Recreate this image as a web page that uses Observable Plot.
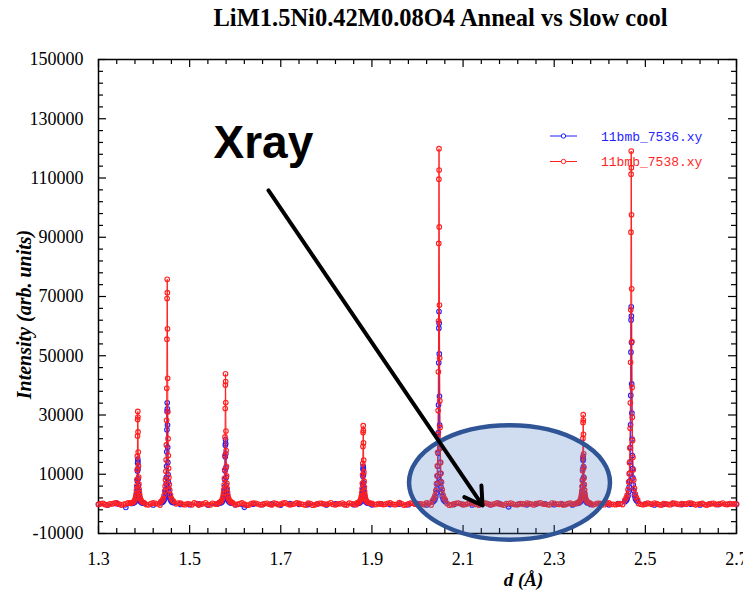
<!DOCTYPE html>
<html>
<head>
<meta charset="utf-8">
<script src="https://cdn.jsdelivr.net/npm/d3@7"></script>
<script src="https://cdn.jsdelivr.net/npm/@observablehq/plot@0.6"></script>
<style>
  html, body { margin: 0; padding: 0; background: #fff; }
</style>
</head>
<body>
<div id="chart"></div>
<script>
// ---- Diffraction data (d in Å, intensity in arb. units) ----
const dStart = 1.30;
const redStep = 0.005;  // background sampling of 11bmb_7538
const blueStep = 0.02;  // background sampling of 11bmb_7536

// background intensities, 1.30 → 2.70
const redBase = [
  -200, 80, 150, -260, -380, 10, -30, 220, 370, -90,
  -420, -150, 30, 310, 250, -60, -300, -350, -100, 120,
  100, -240, -330, 60, 380, 190, -50, -410, -450, -120,
  150, 330, -170, -20, 30, 270, 250, -160, -280, 40,
  -80, -310, 330, 120, -400, -90, 50, 360, -230, -370,
  200, 20, -130, -250, -350, 140, 350, -60, 0, 290,
  -280, -190, 130, 310, -100, -440, -420, 60, 280, 170,
  -50, -330, -200, 90, 180, -120, -380, 250, 80, -270,
  -100, 230, 350, -40, -330, -150, 30, 320, 150, -90,
  -250, -400, 230, 110, -450, -310, -30, 180, 150, -60,
  -180, 40, 350, -200, -330, 10, 30, 260, -250, -410,
  230, 90, -130, -300, 270, 60, -450, -180, -30, 340,
  150, -220, -180, 130, 0, -250, -100, 210, 380, -60,
  -280, -150, 400, 100, -400, -330, 0, 230, 200, -100,
  -230, 50, -80, -260, 330, 190, -350, -120, 50, 260,
  180, -110, -150, 90, -430, -280, -30, 150, 250, 20,
  -300, -210, 30, 300, 350, -90, -200, -400, 0, 170,
  250, -20, -300, -150, 50, 330, -50, -230, -400, 120,
  130, 260, -100, -300, -250, 60, 0, -180, 280, 80,
  -50, -350, 100, 190, 350, -40, -130, -220, -330, 270,
  200, -80, -150, 60, -380, -250, 80, 230, -130, -20,
  -300, 150, 300, -100, -200, 10, 90, -330, -60, 210,
  150, -50, -300, 240, 330, -170, -130, -280, -100, 70,
  -250, 10, 330, 120, -400, -250, 380, 120, -130, -300,
  -100, 230, 50, -200, 300, 70, -230, -400, 130, 50,
  -180, -300, 250, 160, -80, -210, 100, -20, -130, 220,
  280, 0, -330, -150, 30, 150, -250, -410, -100, 60,
  180, -220, -60, 30, 300, -150, -250, 80, -50, -30,
  -50
];
const blueBase = [
  -150, -400, 80, -1200, -250, -30, -350, 130, -1050, -180,
  -280, 0, -380, -100, 150, -320, -1150, -130, -230, -20,
  -400, 100, -150, -250, -50, -350, 50, -180, -280, -100,
  -330, 30, -230, -80, -300, 120, -380, -130, 0, -250,
  -180, -350, -40, -260, 60, -1000, -150, -320, -80, 20,
  -280, -130, -370, 0, -200, -100, -330, 100, -250, -150,
  -30, -350, -150, 60, -250, -120, -370, -60, -230, -130,
  -150
];

// Bragg reflections (spinel 531, 440, 511, 331, 400, 222, 311)
const peakCenters = [1.3862, 1.4508, 1.5787, 1.8809, 2.0472, 2.3636, 2.4690];
// sampling offsets across each reflection
const peakOffsets = [
  -0.014, -0.011, -0.009, -0.007, -0.0055, -0.0045, -0.0037, -0.003, -0.0024, -0.0019, -0.0014, -0.001, -0.0006, -0.0003,
  0,
  0.0003, 0.0006, 0.001, 0.0014, 0.0019, 0.0024, 0.003, 0.0037, 0.0045, 0.0055, 0.007, 0.009, 0.011, 0.014
];

const redPeaks = [
  [310, 500, 720, 1150, 1780, 2460, 3340, 4520, 6120, 8210, 11600, 16100, 22900, 28500, 31200,
   29300, 24300, 17500, 12800, 9050, 6710, 4930, 3650, 2680, 1900, 1250, 780, 530, 340],
  [760, 1210, 1740, 2800, 4320, 5990, 8110, 11000, 14900, 19900, 28200, 39000, 55600, 69300, 75800,
   71300, 59100, 42400, 31100, 22000, 16300, 12000, 8870, 6520, 4620, 3030, 1900, 1290, 830],
  [440, 700, 1010, 1620, 2500, 3470, 4700, 6370, 8600, 11500, 16300, 22600, 32200, 40100, 43900,
   41300, 34200, 24600, 18000, 12700, 9440, 6940, 5140, 3780, 2680, 1760, 1100, 750, 480],
  [260, 420, 610, 980, 1500, 2090, 2820, 3830, 5170, 6940, 9820, 13600, 19400, 24100, 26400,
   24800, 20600, 14800, 10800, 7660, 5680, 4170, 3090, 2270, 1610, 1060, 660, 450, 290],
  [1200, 1920, 2760, 4440, 6830, 9470, 12800, 17400, 23500, 31500, 44600, 61700, 87900, 109600, 119900,
   112700, 93500, 67100, 49200, 34800, 25800, 18900, 14000, 10300, 7310, 4800, 3000, 2040, 1320],
  [300, 480, 690, 1110, 1720, 2380, 3220, 4360, 5900, 7920, 11200, 15500, 22100, 27500, 30100,
   28300, 23500, 16900, 12300, 8730, 6470, 4760, 3520, 2590, 1840, 1200, 750, 510, 330],
  [1300, 2100, 3000, 4800, 7400, 10200, 13900, 18900, 25500, 34100, 47800, 65500, 91700, 111300, 119100,
   113500, 97600, 72600, 54800, 39300, 29200, 21400, 15700, 11500, 8100, 5200, 3300, 2200, 1400]
];
const bluePeaks = [
  [150, 240, 350, 560, 860, 1190, 1620, 2190, 2960, 3970, 5620, 7780, 11100, 13800, 15100,
   14200, 11800, 8460, 6190, 4380, 3250, 2390, 1770, 1300, 920, 600, 380, 260, 170],
  [340, 550, 780, 1260, 1940, 2690, 3650, 4940, 6680, 8970, 12700, 17600, 25000, 31200, 34100,
   32100, 26600, 19100, 14000, 9890, 7330, 5390, 3990, 2930, 2080, 1360, 850, 580, 380],
  [220, 350, 500, 800, 1240, 1710, 2320, 3150, 4250, 5710, 8070, 11200, 15900, 19800, 21700,
   20400, 16900, 12200, 8900, 6290, 4670, 3430, 2540, 1870, 1320, 870, 540, 370, 240],
  [130, 200, 290, 470, 720, 1000, 1360, 1840, 2490, 3340, 4720, 6540, 9310, 11600, 12700,
   11900, 9910, 7110, 5210, 3680, 2730, 2010, 1490, 1090, 770, 510, 320, 220, 140],
  [650, 1040, 1490, 2400, 3700, 5130, 6940, 9410, 12700, 17100, 24100, 33400, 47600, 59300, 64900,
   61000, 50600, 36300, 26600, 18800, 14000, 10300, 7590, 5580, 3960, 2600, 1620, 1100, 710],
  [160, 260, 370, 600, 920, 1270, 1720, 2330, 3160, 4230, 5990, 8290, 11800, 14700, 16100,
   15100, 12600, 9020, 6600, 4670, 3460, 2540, 1880, 1380, 980, 640, 400, 270, 180],
  [720, 1150, 1650, 2660, 4100, 5700, 7700, 10400, 14200, 19000, 26700, 36600, 51200, 62100, 66500,
   63400, 54500, 40500, 30600, 21900, 16300, 11900, 8770, 6420, 4520, 2900, 1840, 1230, 780]
];

const legendItems = [
  {label: "11bmb_7536.xy", color: "#1f1fff"},
  {label: "11bmb_7538.xy", color: "#ff1f1f"}
];

// ---- Axis ticks ----
const xMajor = [1.3, 1.5, 1.7, 1.9, 2.1, 2.3, 2.5, 2.7];
const yMajor = [-10000, 10000, 30000, 50000, 70000, 90000, 110000, 130000, 150000];
const xMinor = d3.range(1.34, 2.7, 0.04).map(v => +v.toFixed(2)).filter(v => !xMajor.some(m => Math.abs(m - v) < 1e-6));
const yMinor = d3.range(-6000, 150000, 4000).filter(v => !yMajor.includes(v));

// ---- Annotations (data coordinates) ----
const highlight = {d: 2.203, I: 7050, halfD: 0.2205, halfI: 19300};
const pointer = [{d1: 1.673, I1: 105800, d2: 2.1427, I2: -540}];
const calloutText = [{d: 1.5524, I: 116600, text: "Xray"}];

// ---- Series assembly ----
function buildSeries(base, step, peaks) {
  const pts = [];
  base.forEach((I, i) => {
    const d = +(dStart + i * step).toFixed(3);
    if (peakCenters.every(c => Math.abs(d - c) > 0.0145)) pts.push({d, I});
  });
  peakCenters.forEach((c, k) => {
    peakOffsets.forEach((o, j) => pts.push({d: c + o, I: peaks[k][j]}));
  });
  return pts.sort((a, b) => a.d - b.d);
}
const blueData = buildSeries(blueBase, blueStep, bluePeaks);
const redData = buildSeries(redBase, redStep, redPeaks);

const W = 743, H = 593;
const M = {top: 59, right: 7, bottom: 60, left: 98};
const frameW = W - M.left - M.right;
const frameH = H - M.top - M.bottom;
const majorLen = 8, minorLen = 5;

const serif = "'Liberation Serif', 'Times New Roman', 'DejaVu Serif', serif";
const sans = "'Liberation Sans', Arial, sans-serif";
const mono = "'Liberation Mono', 'Courier New', monospace";

function ellipseMark(index, scales) {
  const cx = scales.x(highlight.d), cy = scales.y(highlight.I);
  const rx = Math.abs(scales.x(highlight.d + highlight.halfD) - cx);
  const ry = Math.abs(scales.y(highlight.I + highlight.halfI) - cy);
  return d3.create("svg:ellipse")
    .attr("cx", cx).attr("cy", cy).attr("rx", rx).attr("ry", ry)
    .attr("fill", "#4472c4").attr("fill-opacity", 0.25)
    .attr("stroke", "#2f5597").attr("stroke-width", 4.5)
    .node();
}

function legendMark(index, scales, values, dims) {
  const right = dims.width - dims.marginRight, top = dims.marginTop;
  const g = d3.create("svg:g");
  legendItems.forEach((item, i) => {
    const y = top + 77 + i * 25.5;
    g.append("line").attr("x1", right - 186).attr("x2", right - 159)
      .attr("y1", y).attr("y2", y).attr("stroke", item.color).attr("stroke-width", 1);
    g.append("circle").attr("cx", right - 172.5).attr("cy", y).attr("r", 2.2)
      .attr("fill", "white").attr("stroke", item.color);
    g.append("text").attr("x", right - 135).attr("y", y).attr("dy", "0.35em")
      .attr("text-anchor", "start")
      .attr("fill", item.color).attr("font-family", mono).attr("font-size", 13)
      .text(item.label);
  });
  return g.node();
}

const tickStyle = {x: d => d, stroke: "black", strokeWidth: 1.2};
const tickStyleY = {y: d => d, stroke: "black", strokeWidth: 1.2};

const chart = Plot.plot({
  width: W,
  height: H,
  marginTop: M.top,
  marginRight: M.right,
  marginBottom: M.bottom,
  marginLeft: M.left,
  x: {domain: [1.3, 2.7]},
  y: {domain: [-10000, 150000]},
  style: {fontFamily: serif, fontSize: "18px", color: "black", background: "white"},
  marks: [
    Plot.axisX({ticks: xMajor, tickSize: 0, tickPadding: 19, tickFormat: d3.format(".1f"), label: null}),
    Plot.axisY({ticks: yMajor, tickSize: 0, tickPadding: 15, tickFormat: d => String(d), label: null}),
    // inward ticks on all four sides
    Plot.tickX(xMajor, {...tickStyle, insetTop: frameH - majorLen}),
    Plot.tickX(xMajor, {...tickStyle, insetBottom: frameH - majorLen}),
    Plot.tickX(xMinor, {...tickStyle, insetTop: frameH - minorLen}),
    Plot.tickX(xMinor, {...tickStyle, insetBottom: frameH - minorLen}),
    Plot.tickY(yMajor, {...tickStyleY, insetRight: frameW - majorLen}),
    Plot.tickY(yMajor, {...tickStyleY, insetLeft: frameW - majorLen}),
    Plot.tickY(yMinor, {...tickStyleY, insetRight: frameW - minorLen}),
    Plot.tickY(yMinor, {...tickStyleY, insetLeft: frameW - minorLen}),
    Plot.frame({stroke: "black", strokeWidth: 1.5}),
    // 11bmb_7536 (blue) under 11bmb_7538 (red)
    Plot.line(blueData, {x: "d", y: "I", stroke: legendItems[0].color, strokeWidth: 1}),
    Plot.dot(blueData, {x: "d", y: "I", r: 2.3, stroke: legendItems[0].color, strokeWidth: 1.1, fill: "none"}),
    Plot.line(redData, {x: "d", y: "I", stroke: legendItems[1].color, strokeWidth: 1}),
    Plot.dot(redData, {x: "d", y: "I", r: 2.3, stroke: legendItems[1].color, strokeWidth: 1.1, fill: "none"}),
    legendMark,
    ellipseMark,
    Plot.arrow(pointer, {x1: "d1", y1: "I1", x2: "d2", y2: "I2", stroke: "black", strokeWidth: 4, headLength: 7.5, headAngle: 62}),
    Plot.text(calloutText, {x: "d", y: "I", text: "text", textAnchor: "start", lineAnchor: "bottom",
      fontFamily: sans, fontWeight: "bold", fontSize: 46, fill: "black"}),
    // title and axis titles
    Plot.text(["LiM1.5Ni0.42M0.08O4 Anneal vs Slow cool"], {frameAnchor: "top", dx: 23, dy: -41,
      textAnchor: "middle", fontWeight: "bold", fontSize: 24.5, lineAnchor: "middle"}),
    Plot.text(["Intensity (arb. units)"], {frameAnchor: "left", dx: -74, dy: 18, rotate: -90,
      textAnchor: "middle", fontWeight: "bold", fontStyle: "italic", fontSize: 20, lineAnchor: "middle"}),
    Plot.text(["d (Å)"], {frameAnchor: "bottom", dx: 106, dy: 46,
      textAnchor: "middle", fontWeight: "bold", fontStyle: "italic", fontSize: 19, lineAnchor: "middle"})
  ]
});

document.getElementById("chart").appendChild(chart);
</script>
</body>
</html>
